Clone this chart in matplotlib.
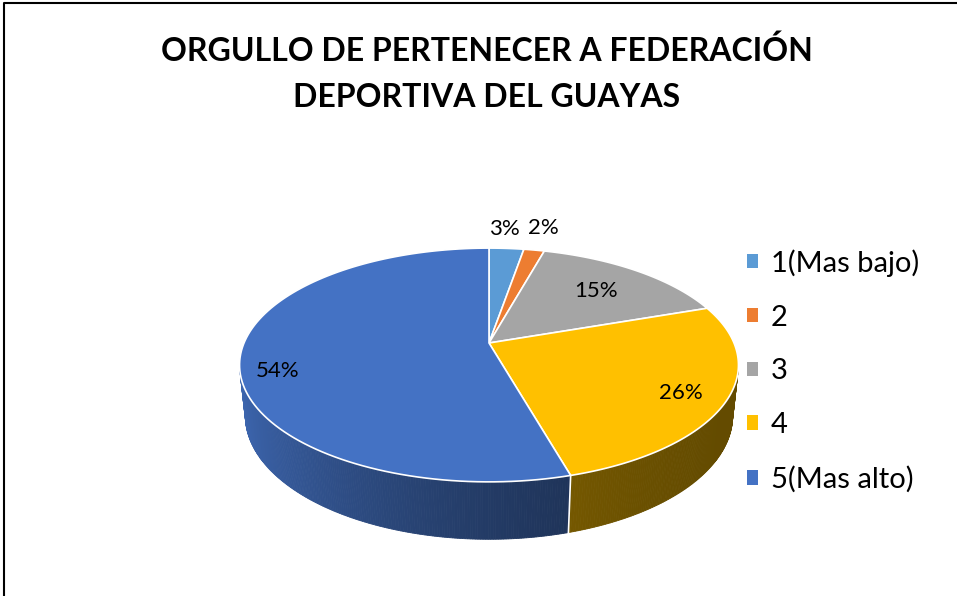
import numpy as np
import matplotlib
matplotlib.use("Agg")
import matplotlib.pyplot as plt
from matplotlib.patches import Polygon, Patch
from matplotlib.colors import to_rgb

# datos
categories = ["1(Mas bajo)", "2", "3", "4", "5(Mas alto)"]
values = [2.7, 1.6, 15.4, 25.9, 54.4]
colors = ["#5B9BD5", "#ED7D31", "#A5A5A5", "#FFC000", "#4472C4"]
title = "ORGULLO DE PERTENECER A FEDERACIÓN\nDEPORTIVA DEL GUAYAS"

# label placement (radius in pie units, extra pixel shifts)
label_r = [1.25, 1.25, 0.7, 0.82, 0.85]
label_dx = [-6, 0, 0, 0, 0]
label_dy = [0, -3, 0, 4, 14]

# 3D projection (pixel space)
cx, cy = 489, 343
k = 245
tilt = np.radians(27.4)
f = 4.72
h = 0.235
s_t, c_t = np.sin(tilt), np.cos(tilt)


def project(theta, z, r=1.0):
    # theta measured clockwise from 12 o'clock
    x = r * np.sin(theta)
    y = r * np.cos(theta)
    v = y * s_t + z * c_t
    d = y * c_t - z * s_t
    sc = f / (f + d)
    return cx + k * x * sc, cy - k * v * sc


def shade(theta):
    nx = np.sin(theta)
    return 0.39 + 0.51 * ((1 - nx) / 2) ** 2


plt.rcParams["font.family"] = ["Lato", "DejaVu Sans"]

fig = plt.figure(figsize=(9.57, 5.96), dpi=100)
ax = fig.add_axes([0, 0, 1, 1])
ax.set_xlim(0, 957)
ax.set_ylim(596, 0)
ax.axis("off")

# borde
ax.plot([4, 4, 957], [596, 3, 3], color="black", lw=1.5, solid_capstyle="butt")

total = sum(values)
bounds = np.concatenate([[0], np.cumsum(values)]) / total * 2 * np.pi

# visible side wall range
cos_lim = -1 / (f * c_t)
th_min = np.arccos(cos_lim)
th_max = 2 * np.pi - th_min

# side walls
for i, col in enumerate(colors):
    a0 = max(bounds[i], th_min)
    a1 = min(bounds[i + 1], th_max)
    if a1 <= a0:
        continue
    base = np.array(to_rgb(col))
    n = max(int((a1 - a0) / np.radians(0.5)), 2)
    ts = np.linspace(a0, a1, n + 1)
    for t0, t1 in zip(ts[:-1], ts[1:]):
        p = [project(t0, 0), project(t1, 0), project(t1, -h), project(t0, -h)]
        c = np.clip(base * shade((t0 + t1) / 2), 0, 1)
        ax.add_patch(Polygon(p, closed=True, facecolor=c, edgecolor=c, lw=0.6))

# separators on the wall
for b in bounds[1:-1]:
    if th_min < b < th_max:
        x0, y0 = project(b, 0)
        x1, y1 = project(b, -h)
        ax.plot([x0, x1], [y0, y1], color="white", lw=1.2)

# top faces
for i, col in enumerate(colors):
    ts = np.linspace(bounds[i], bounds[i + 1], 120)
    pts = [project(0, 0, 0)] + [project(t, 0) for t in ts]
    ax.add_patch(Polygon(pts, closed=True, facecolor=col, edgecolor="white",
                         lw=1.2, joinstyle="round"))

# etiquetas
for i, v in enumerate(values):
    mid = (bounds[i] + bounds[i + 1]) / 2
    x, y = project(mid, 0, label_r[i])
    ax.text(x + label_dx[i], y + label_dy[i], f"{round(v / total * 100)}%",
            fontsize=16, ha="center", va="center", color="black")

ax.text(487, 74, title, fontsize=23, fontweight="bold", ha="center",
        va="center", linespacing=1.72)

handles = [Patch(facecolor=c, edgecolor="none") for c in colors]
ax.legend(handles, categories, loc="center left", bbox_to_anchor=(0.765, 0.3776),
          frameon=False, fontsize=21, handlelength=0.38, handleheight=0.38,
          handletextpad=0.45, labelspacing=0.953, borderpad=0)

fig.savefig("out.png", dpi=100)
